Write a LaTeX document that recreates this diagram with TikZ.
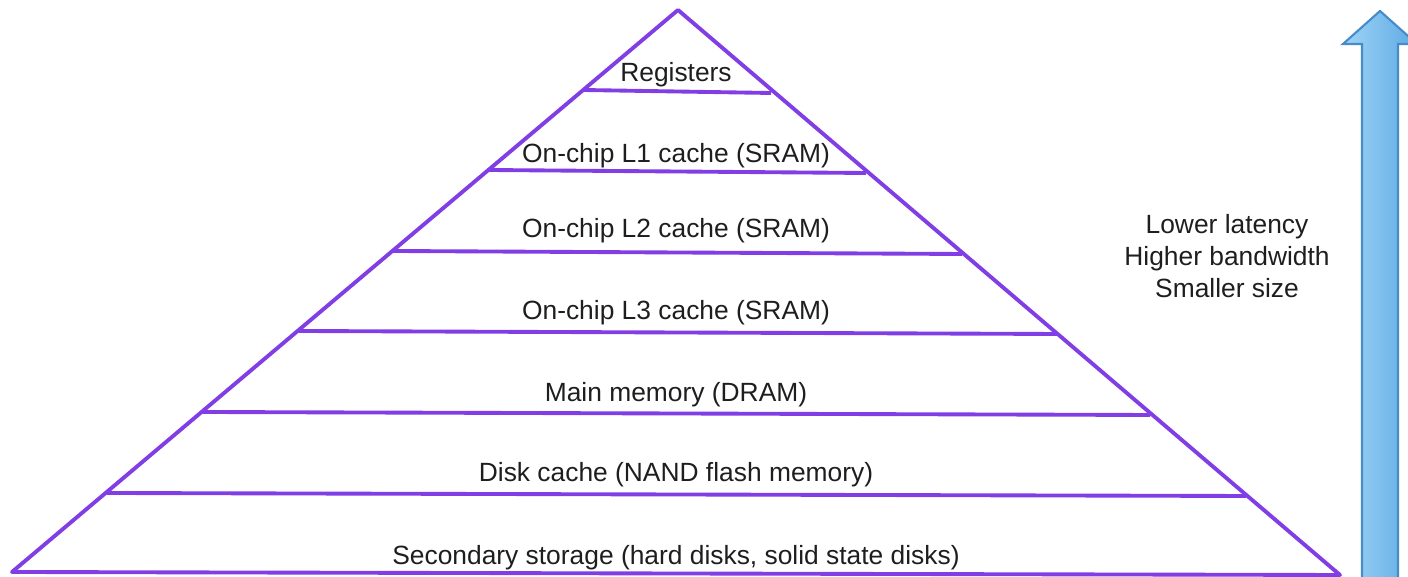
\documentclass[tikz,border=0pt]{standalone}
\usepackage{fontspec}
\setmainfont{Liberation Sans}
\definecolor{tierline}{RGB}{128,62,228}
\definecolor{arrowfillA}{RGB}{160,212,246}
\definecolor{arrowfillB}{RGB}{92,170,228}
\definecolor{arrowedge}{RGB}{70,140,200}
\definecolor{labeltext}{RGB}{30,30,30}
\begin{document}
\begin{tikzpicture}[x=0.01cm,y=-0.01cm,
  tier/.style={draw=tierline,line width=1.1pt,line join=round},
  tierlabel/.style={font=\fontsize{7.5pt}{9pt}\selectfont,text=labeltext,inner sep=0pt},
  sidelabel/.style={font=\fontsize{7.5pt}{9.1pt}\selectfont,text=labeltext,align=center,inner sep=0pt}]
\useasboundingbox (0,0) rectangle (1408,577);
\clip (0,0) rectangle (1408,577);

% pyramid outline
\coordinate (apex) at (678,10);
\coordinate (bl) at (12,572);
\coordinate (br) at (1340,575);
\draw[tier] (bl) -- (apex) -- (br) -- cycle;

% tier separators
\coordinate (l1) at (583,90);   \coordinate (r1) at (771,93);
\coordinate (l2) at (488,170);  \coordinate (r2) at (866,173);
\coordinate (l3) at (393,251);  \coordinate (r3) at (962,254);
\coordinate (l4) at (299,331);  \coordinate (r4) at (1057,334);
\coordinate (l5) at (203,412);  \coordinate (r5) at (1150,415);
\coordinate (l6) at (107,493);  \coordinate (r6) at (1246,496);
\foreach \i in {1,...,6} \draw[tier] (l\i) -- (r\i);

% tier labels
\node[tierlabel] (reg)  at (676,75)  {Registers};
\node[tierlabel] (lone) at (676,156) {On-chip L1 cache (SRAM)};
\node[tierlabel] (ltwo) at (676,231) {On-chip L2 cache (SRAM)};
\node[tierlabel] (lthr) at (676,313) {On-chip L3 cache (SRAM)};
\node[tierlabel] (mem)  at (676,395) {Main memory (DRAM)};
\node[tierlabel] (dsk)  at (676,475) {Disk cache (NAND flash memory)};
\node[tierlabel] (sec)  at (676,558) {Secondary storage (hard disks, solid state disks)};

% trend arrow and its caption
\shade[left color=arrowfillA,right color=arrowfillB,draw=arrowedge,line width=0.6pt]
  (1362,600) -- (1362,44) -- (1343,44) -- (1380,11) -- (1417,44) -- (1398,44) -- (1398,600) -- cycle;
\node[sidelabel] (trend) at (1227,256) {Lower latency\\Higher bandwidth\\Smaller size};
\end{tikzpicture}
\end{document}
